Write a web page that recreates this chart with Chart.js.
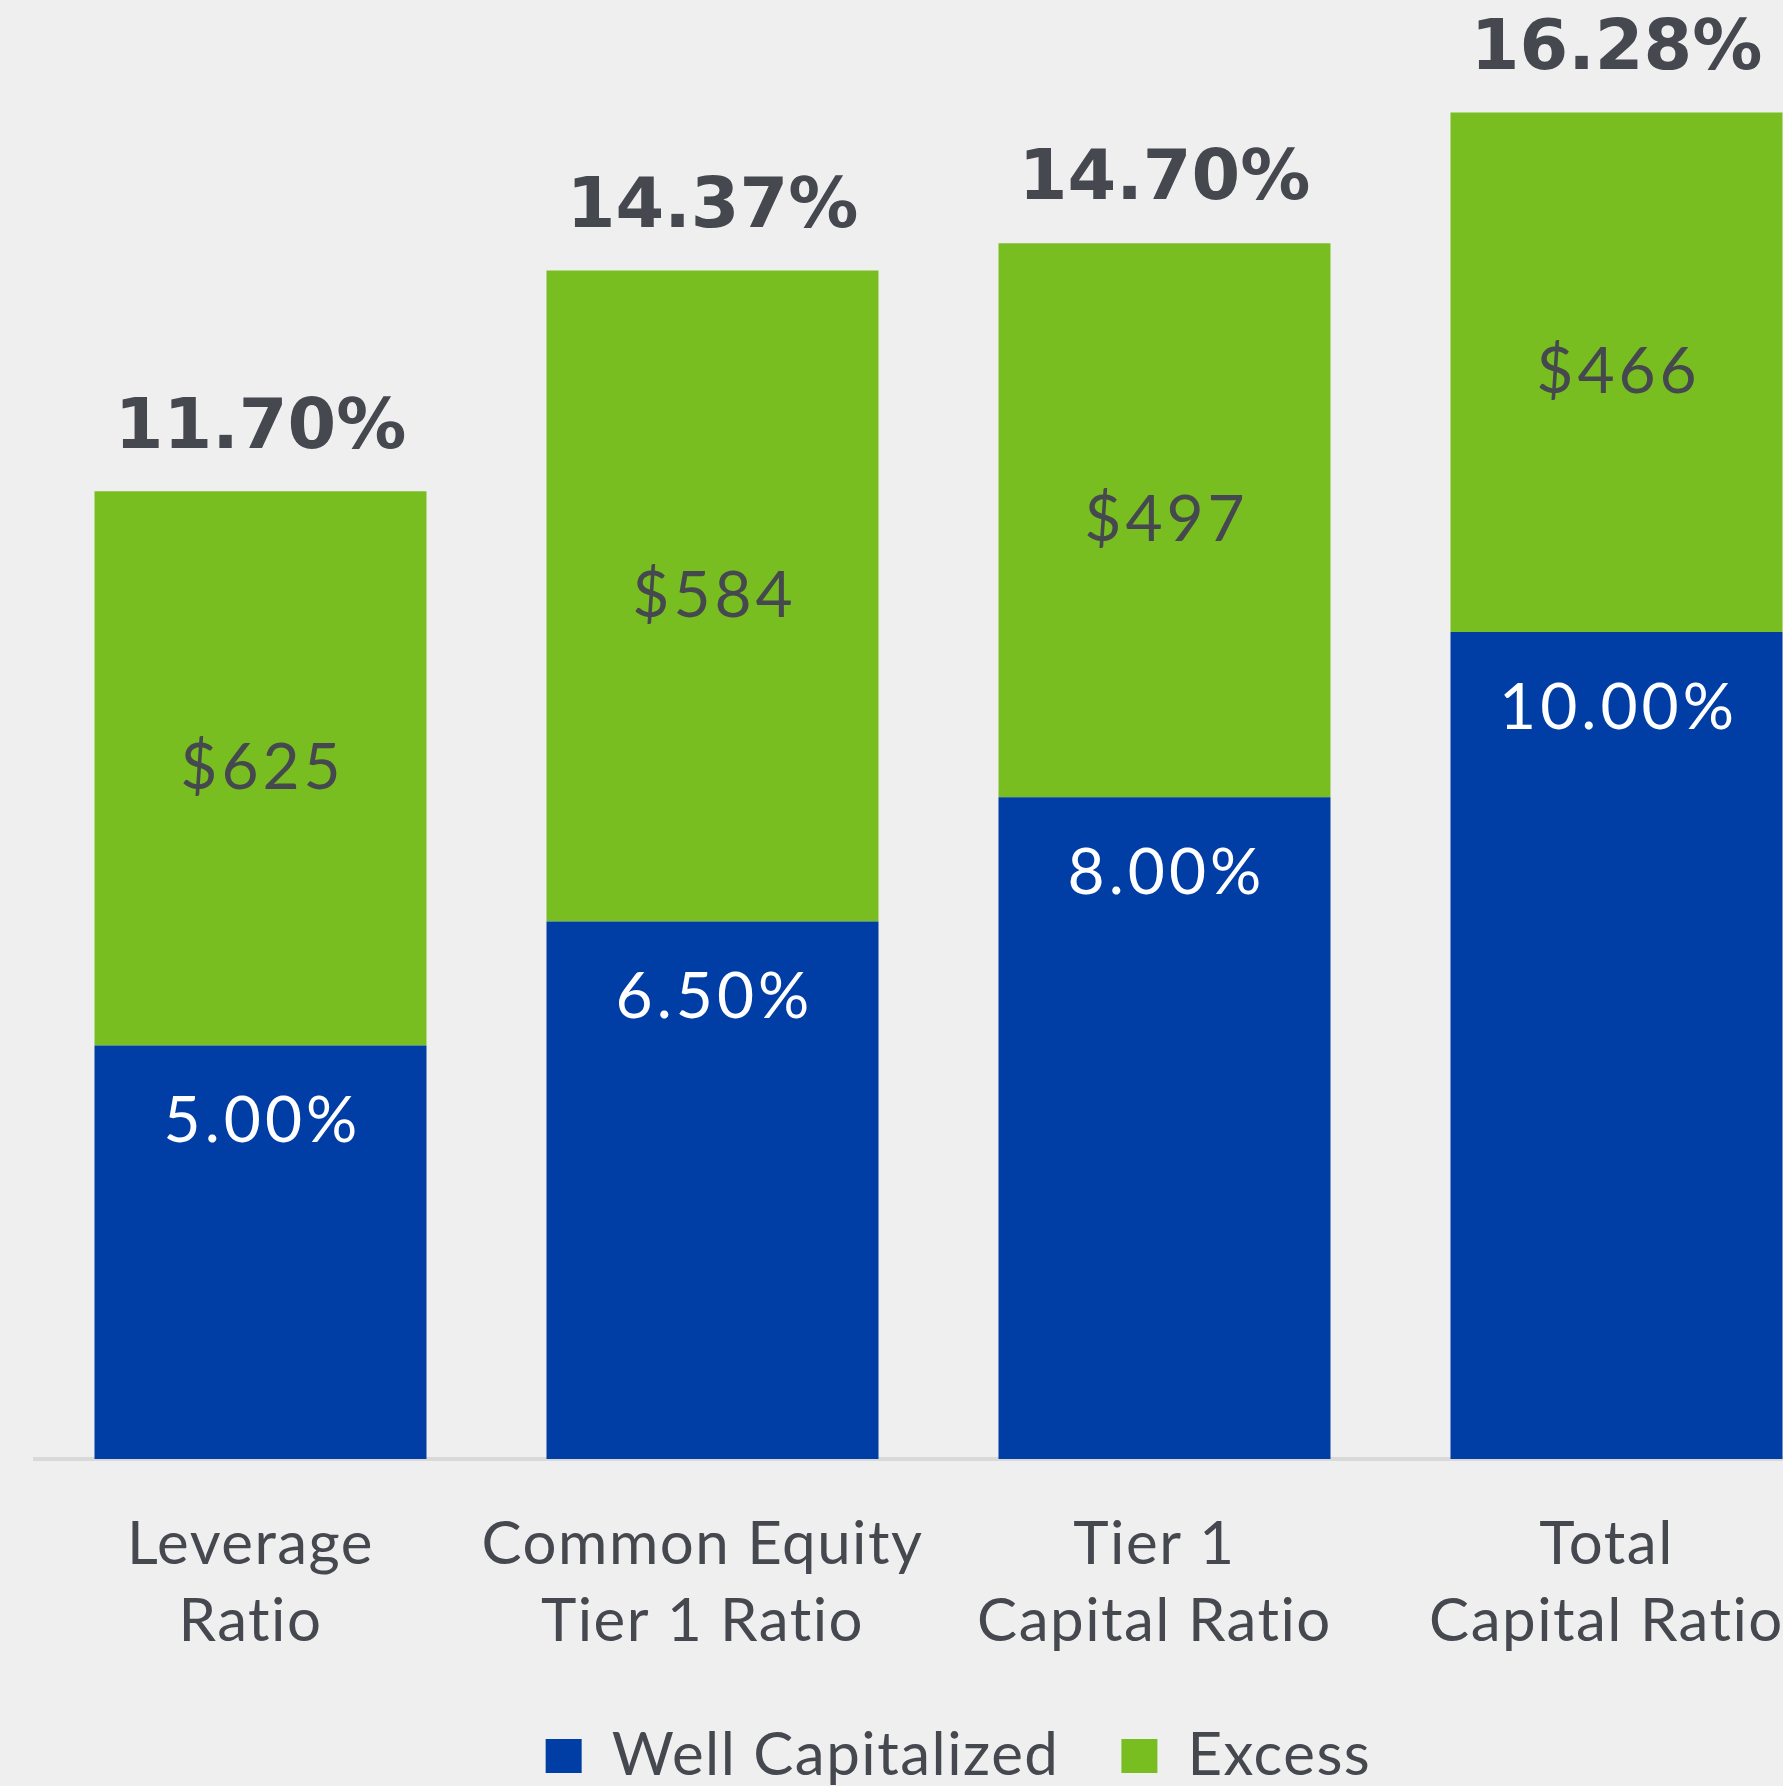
<!DOCTYPE html>
<html>
<head>
<meta charset="utf-8">
<script src="https://cdn.jsdelivr.net/npm/chart.js@4.4.1/dist/chart.umd.min.js"></script>
<style>
    html, body { margin: 0; padding: 0; overflow: hidden; background: #efefef; }
    #wrap { width: 1877px; height: 1796px; }
    canvas { background: #efefef; }
</style>
</head>
<body>
<div id="wrap"><canvas id="chart-capital" width="1877" height="1796"></canvas></div>
<script>
// datos
const categorias = [['Leverage', 'Ratio'], ['Common Equity', 'Tier 1 Ratio'], ['Tier 1', 'Capital Ratio'], ['Total', 'Capital Ratio']];
const wellCapitalized = [5.00, 6.50, 8.00, 10.00];
const excess = [6.70, 7.87, 6.70, 6.28];
const excessDolares = ['$625', '$584', '$497', '$466'];

const AZUL = '#003DA5';
const VERDE = '#78BE20';
const TEXTO = '#46484f';

// un poco de espaciado entre letras para parecerse a la fuente original
const espaciadoPlugin = {
    id: 'espaciado',
    beforeUpdate(chart) { chart.ctx.letterSpacing = '1.5px'; },
    afterLayout(chart) {
        // la leyenda del original esta algo desplazada a la derecha
        chart.legend.left += 20;
        chart.legend.right += 20;
    },
    beforeDraw(chart) { chart.ctx.letterSpacing = '1.5px'; }
};

// etiquetas sobre las barras
const etiquetasPlugin = {
    id: 'etiquetas',
    afterDatasetsDraw(chart) {
        const ctx = chart.ctx;
        const metaAzul = chart.getDatasetMeta(0);
        const metaVerde = chart.getDatasetMeta(1);
        ctx.save();
        ctx.textAlign = 'center';
        ctx.textBaseline = 'middle';

        metaAzul.data.forEach((bar, i) => {
            ctx.fillStyle = '#ffffff';
            ctx.font = '64px Lato';
            ctx.letterSpacing = '4px';
            ctx.fillText(wellCapitalized[i].toFixed(2) + '%', bar.x + 2, bar.y + 76);
        });

        metaVerde.data.forEach((bar, i) => {
            ctx.fillStyle = TEXTO;
            ctx.font = '64px Lato';
            ctx.letterSpacing = '4px';
            ctx.fillText(excessDolares[i], bar.x + 2, (bar.y + bar.base) / 2);

            const total = wellCapitalized[i] + excess[i];
            ctx.font = 'bold 70px "DejaVu Sans"';
            ctx.letterSpacing = '0px';
            ctx.fillText(total.toFixed(2) + '%', bar.x, bar.y - 62);
        });
        ctx.restore();
    }
};

new Chart(document.getElementById('chart-capital'), {
    type: 'bar',
    data: {
        labels: categorias,
        datasets: [
            { label: 'Well Capitalized', data: wellCapitalized, backgroundColor: AZUL, borderWidth: 0 },
            { label: 'Excess', data: excess, backgroundColor: VERDE, borderWidth: 0 }
        ]
    },
    options: {
        responsive: false,
        animation: false,
        layout: { padding: { left: 34.5, right: 34.5, top: 53, bottom: 0 } },
        datasets: { bar: { categoryPercentage: 1, barPercentage: 0.7345 } },
        plugins: {
            tooltip: { enabled: false },
            legend: {
                position: 'bottom',
                labels: {
                    boxWidth: 36,
                    boxHeight: 34,
                    padding: 62,
                    color: TEXTO,
                    font: { family: 'Lato', size: 60 }
                }
            }
        },
        scales: {
            x: {
                stacked: true,
                grid: { display: false, drawTicks: false },
                border: { display: true, color: '#d9d9d9', width: 4 },
                ticks: {
                    color: TEXTO,
                    padding: 47,
                    labelOffset: -10,
                    maxRotation: 0,
                    autoSkip: false,
                    font: { family: 'Lato', size: 60, lineHeight: 1.283 }
                },
                // el alto del eje compensa el de la leyenda (padding 62 -> 13px menos)
                afterFit(scale) { scale.height = 205; }
            },
            y: {
                stacked: true,
                display: false,
                min: 0,
                max: 17
            }
        }
    },
    plugins: [espaciadoPlugin, etiquetasPlugin]
});
</script>
</body>
</html>
